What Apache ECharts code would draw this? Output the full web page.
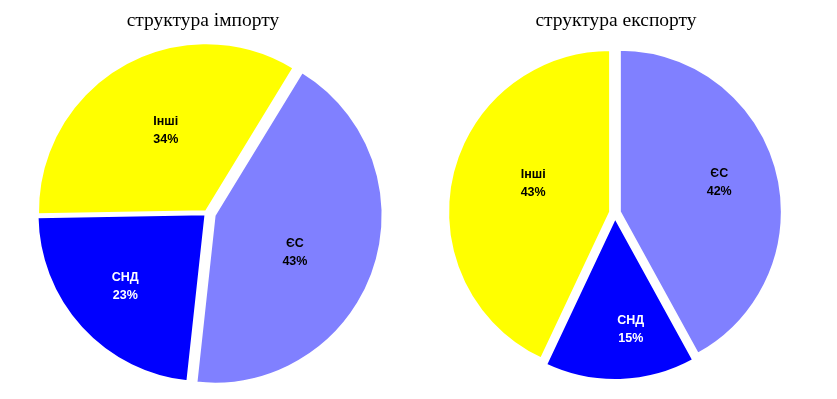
<!DOCTYPE html>
<html><head><meta charset="utf-8">
<script src="https://cdn.jsdelivr.net/npm/echarts@6/dist/echarts.min.js"></script>
<style>html,body{margin:0;padding:0;background:#fff}#c{width:837px;height:399px}</style>
</head><body><div id="c"></div>
<script>
// ---- data ----
const categories = ['ЄС', 'СНД', 'Інші'];
const importShares = [43, 23, 34];
const exportShares = [42, 15, 43];
const titles = ['структура імпорту', 'структура експорту'];

// ---- styles ----
const sliceColors = {'ЄС': '#8080FF', 'СНД': '#0000FF', 'Інші': '#FFFF00'};
const labelColors = {'ЄС': '#000000', 'СНД': '#FFFFFF', 'Інші': '#000000'};

function makePie(values, cfg) {
  return {
    type: 'pie',
    center: cfg.center,
    radius: cfg.radius,
    startAngle: cfg.startAngle,
    clockwise: true,
    selectedMode: 'multiple',
    selectedOffset: cfg.offset,
    silent: true,
    animation: false,
    avoidLabelOverlap: false,
    emphasis: {disabled: true},
    label: {
      position: 'inside',
      formatter: '{b}\n{d}%',
      fontFamily: 'Liberation Sans, Arial, sans-serif',
      fontWeight: 'bold',
      fontSize: 12.5,
      lineHeight: 18
    },
    labelLine: {show: false},
    labelLayout: function (p) {
      const s = cfg.shift[categories[p.dataIndex]] || [0, 0];
      return {dx: s[0], dy: s[1]};
    },
    data: categories.map(function (name, i) {
      const vis = cfg.visible.indexOf(name) >= 0;
      return {
        name: name,
        value: values[i],
        selected: vis,
        itemStyle: vis
          ? {color: sliceColors[name], borderColor: '#FFFFFF', borderWidth: 2}
          : {color: 'rgba(0,0,0,0)', borderWidth: 0},
        label: {show: vis, color: labelColors[name]}
      };
    })
  };
}

const leftCenter = [207, 213], leftR = 168;
const rightCenter = [615, 213], rightR = 162;

const titleStyle = {fontFamily: 'Liberation Serif, Times New Roman, serif', fontWeight: 'normal', fontSize: 19.5, color: '#000'};

const option = {
  backgroundColor: '#FFFFFF',
  title: [
    {text: titles[0], left: 203, top: 11, textAlign: 'center', padding: 0, textStyle: titleStyle},
    {text: titles[1], left: 616, top: 11, textAlign: 'center', padding: 0, textStyle: titleStyle}
  ],
  series: [
    makePie(importShares, {center: leftCenter, radius: leftR, startAngle: 58.6, offset: 8,
      visible: ['ЄС'], shift: {'ЄС': [-2, 9]}}),
    makePie(importShares, {center: leftCenter, radius: leftR, startAngle: 58.6, offset: 2,
      visible: ['СНД', 'Інші'], shift: {'СНД': [-16, 14], 'Інші': [3, -5]}}),
    makePie(exportShares, {center: rightCenter, radius: rightR, startAngle: 90, offset: 5,
      visible: ['ЄС', 'СНД', 'Інші'], shift: {'ЄС': [18, -8], 'СНД': [13, 28], 'Інші': [5, -10]}})
  ]
};

const chart = echarts.init(document.getElementById('c'), null, {renderer: 'canvas'});
chart.setOption(option);
</script>
</body></html>
